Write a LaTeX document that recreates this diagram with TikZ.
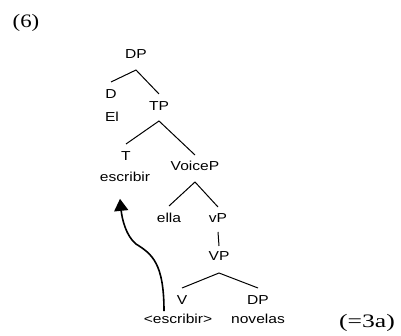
\documentclass[tikz,border=0pt]{standalone}
\usepackage{fontspec}
\usetikzlibrary{arrows.meta}
\newfontfamily\treefont[FakeStretch=1.2]{Liberation Sans}
\newfontfamily\exfont[FakeStretch=1.2]{Liberation Serif}
\newfontfamily\exfontw[FakeStretch=1.35]{Liberation Serif}
\tikzset{
  tn/.style={font=\treefont\fontsize{13}{13}\selectfont, inner sep=0pt, text height=9.3pt, text depth=0pt},
  br/.style={line width=1pt},
  mv/.style={line width=1.6pt, -{Triangle[length=12pt,width=14pt]}},
}
\begin{document}
\begin{tikzpicture}[x=1pt,y=-1pt]
\path[use as bounding box] (0,0) rectangle (401,336);
\node[font=\exfont\fontsize{19}{19}\selectfont, inner sep=0pt] (ex) at (26,23) {(6)};
\node[font=\exfontw\fontsize{19}{19}\selectfont, inner sep=0pt] (eq) at (367,323) {(=3a)};
\node[tn] (DP) at (136,54) {DP};
\node[tn] (D) at (111,94) {D};
\node[tn] (El) at (112,117) {El};
\node[tn] (TP) at (159,106) {TP};
\node[tn] (T) at (126,156) {T};
\node[tn] (esc) at (125,177) {escribir};
\node[tn] (VoiceP) at (195,166) {VoiceP};
\node[tn] (ella) at (169,218) {ella};
\node[tn] (vP) at (218,218) {vP};
\node[tn] (VP) at (219,256) {VP};
\node[tn] (V) at (182,300) {V};
\node[tn] (DPb) at (258,300) {DP};
\node[tn] (esc2) at (178,319) {<escribir>};
\node[tn] (nov) at (258,319) {novelas};
% branches
\coordinate (aDP) at ([yshift=-16pt]DP.center);
\coordinate (aTP) at ([yshift=-15pt]TP.center);
\coordinate (aVoice) at ([yshift=-16pt]VoiceP.center);
\coordinate (aVP) at ([yshift=-17pt]VP.center);
\draw[br] ([yshift=12pt]D.center) -- (aDP) -- ([yshift=12pt]TP.center);
\draw[br] ([yshift=12pt]T.center) -- (aTP) -- ([yshift=11pt]VoiceP.center);
\draw[br] ([yshift=12pt]ella.center) -- (aVoice) -- ([yshift=11pt]vP.center);
\draw[br] ([yshift=-14pt]vP.center) -- ([yshift=10pt]VP.center);
\draw[br] ([yshift=12pt]V.center) -- (aVP) -- ([yshift=12pt]DPb.center);
% movement arrow
\draw[mv] ([xshift=-14pt,yshift=3pt]esc2.north) .. controls +(0,-48) and +(16,10) .. (136,244)
  .. controls +(-10,-8) and +(2,20) .. ([xshift=-5pt,yshift=-17pt]esc.south);
\end{tikzpicture}
\end{document}
